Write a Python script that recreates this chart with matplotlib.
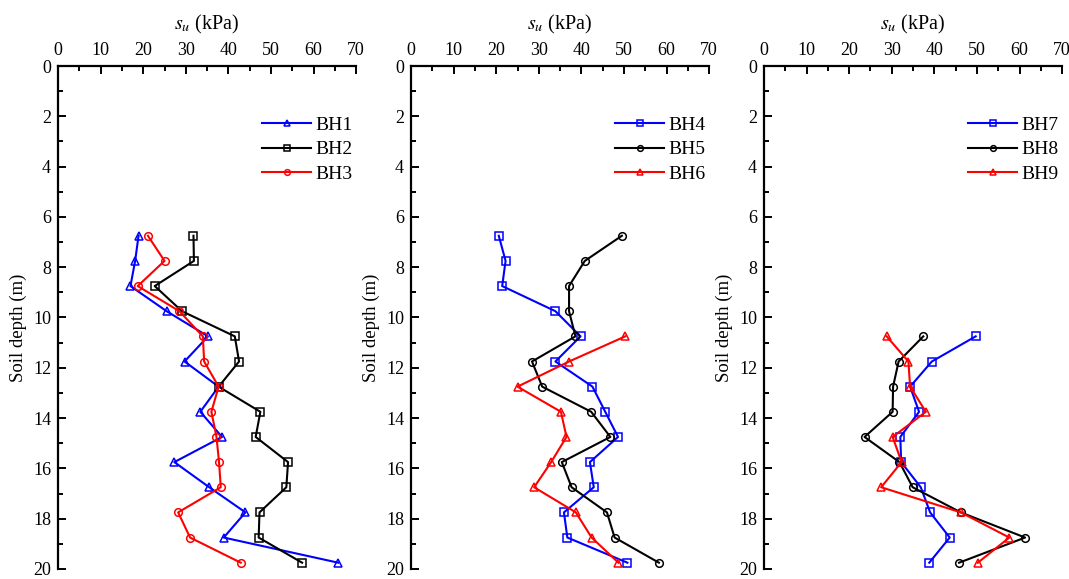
import matplotlib
matplotlib.use("Agg")
from matplotlib import pyplot as plt
from matplotlib.ticker import MultipleLocator

plt.rcParams['font.family'] = ['Liberation Serif', 'DejaVu Serif']
plt.rcParams['mathtext.fontset'] = 'stix'

# Depths of the vane shear tests (m)
depth_a = [6.75, 7.75, 8.75, 9.75, 10.75, 11.75, 12.75, 13.75, 14.75,
           15.75, 16.75, 17.75, 18.75, 19.75]
depth_b = [10.75, 11.75, 12.75, 13.75, 14.75, 15.75, 16.75, 17.75, 18.75,
           19.75]

# Undrained shear strength su (kPa) for each borehole
bh1 = [18.9, 18.1, 17.0, 25.5, 35.2, 29.7, 37.7, 33.4, 38.5, 27.3, 35.5,
       44.0, 38.9, 65.8]
bh2 = [31.8, 31.9, 22.7, 29.1, 41.5, 42.5, 37.7, 47.5, 46.4, 54.0, 53.6,
       47.3, 47.1, 57.3]
bh3 = [21.1, 25.0, 18.7, 28.5, 34.0, 34.3, 37.7, 36.0, 37.2, 37.8, 38.2,
       28.2, 31.0, 42.9]
bh4 = [20.6, 22.2, 21.4, 33.9, 39.8, 33.9, 42.6, 45.6, 48.6, 42.0, 42.9,
       35.9, 36.7, 50.8]
bh5 = [49.5, 40.8, 37.1, 37.1, 38.6, 28.4, 30.8, 42.3, 46.8, 35.4, 37.7,
       46.0, 47.8, 58.2]
bh6 = [50.3, 37.1, 25.0, 35.2, 36.5, 32.9, 28.9, 38.7, 42.4, 48.7]
bh7 = [49.7, 39.4, 34.3, 36.4, 32.0, 32.2, 36.8, 39.0, 43.6, 38.8]
bh8 = [37.4, 31.6, 30.3, 30.2, 23.6, 31.8, 34.9, 46.2, 61.3, 45.8]
bh9 = [28.8, 33.9, 34.3, 38.0, 30.2, 32.3, 27.5, 46.2, 57.6, 50.2]

panels = [
  [('BH1', bh1, depth_a, 'blue', '^'),
   ('BH2', bh2, depth_a, 'black', 's'),
   ('BH3', bh3, depth_a, 'red', 'o')],
  [('BH4', bh4, depth_a, 'blue', 's'),
   ('BH5', bh5, depth_a, 'black', 'o'),
   ('BH6', bh6, depth_b, 'red', '^')],
  [('BH7', bh7, depth_b, 'blue', 's'),
   ('BH8', bh8, depth_b, 'black', 'o'),
   ('BH9', bh9, depth_b, 'red', '^')],
]

fig = plt.figure(figsize=(10.69, 5.79), dpi=100)
lefts = [0.0543, 0.3845, 0.7147]
width = 0.2789
bottom, height = 0.0173, 0.8687

for i, series in enumerate(panels):
  ax = fig.add_axes([lefts[i], bottom, width, height])
  for name, su, depth, color, marker in series:
    ax.plot(su, depth, color=color, marker=marker, markersize=5.5,
            markerfacecolor='none', markeredgewidth=1.1, linewidth=1.5,
            label=name)
  ax.set_xlim(0, 70)
  ax.set_ylim(20, 0)
  ax.xaxis.set_major_locator(MultipleLocator(10))
  ax.xaxis.set_minor_locator(MultipleLocator(5))
  ax.yaxis.set_major_locator(MultipleLocator(2))
  ax.yaxis.set_minor_locator(MultipleLocator(1))
  ax.xaxis.tick_top()
  ax.xaxis.set_label_position('top')
  ax.spines['right'].set_visible(False)
  ax.spines['bottom'].set_visible(False)
  ax.spines['left'].set_linewidth(1.6)
  ax.spines['top'].set_linewidth(1.6)
  ax.tick_params(which='both', direction='in', width=1.4, labelsize=13,
                 top=True, bottom=False, right=False, left=True)
  ax.tick_params(which='major', length=6, pad=5)
  ax.tick_params(which='minor', length=3.5)
  ax.set_xlabel('$s_u$ (kPa)', fontsize=14.5, labelpad=9)
  ax.set_ylabel('Soil depth (m)', fontsize=13.5)
  ax.yaxis.set_label_coords(-0.105, 0.48)
  ax.legend(loc='upper left', bbox_to_anchor=(0.685, 0.9), frameon=False,
            fontsize=14, numpoints=1, markerscale=0.75, handlelength=2.5,
            handletextpad=0.25, labelspacing=0.35, borderpad=0,
            borderaxespad=0)

plt.savefig('out.png', dpi=100)
